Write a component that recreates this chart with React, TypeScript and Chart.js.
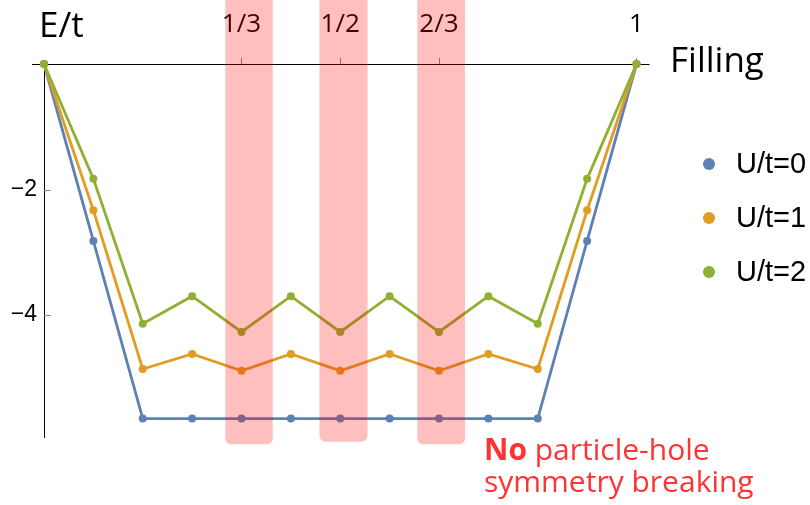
import React, { useEffect, useRef } from "react";
import { Chart, registerables } from "chart.js";

Chart.register(...registerables);

// ---- data ----
const filling = [0, 1 / 12, 2 / 12, 3 / 12, 4 / 12, 5 / 12, 6 / 12, 7 / 12, 8 / 12, 9 / 12, 10 / 12, 11 / 12, 1];
const energyU0 = [0, -2.82, -5.65, -5.65, -5.65, -5.65, -5.65, -5.65, -5.65, -5.65, -5.65, -2.82, 0];
const energyU1 = [0, -2.33, -4.86, -4.62, -4.89, -4.62, -4.89, -4.62, -4.89, -4.62, -4.86, -2.33, 0];
const energyU2 = [0, -1.83, -4.14, -3.70, -4.27, -3.70, -4.27, -3.70, -4.27, -3.70, -4.14, -1.83, 0];
const seriesLabels = ["U/t=0", "U/t=1", "U/t=2"];
const seriesColors = ["#5E81B5", "#E19C24", "#8FB032"];
const xTickValues = [1 / 3, 1 / 2, 2 / 3, 1];
const xTickLabels = ["1/3", "1/2", "2/3", "1"];
const yTickValues = [-4, -2];
const bandLeft = [0.306, 0.465, 0.63];
const bandRight = [0.386, 0.546, 0.7105];
const bandBottom = [-6.06, -6.02, -6.06];

const SEGOE = '"Open Sans", "Noto Sans", sans-serif';
const ARIAL = '"Liberation Sans", Arial, sans-serif';

const axisPlugin = {
  id: "axisLines",
  beforeDatasetsDraw(chart: any) {
    const { ctx, scales, chartArea } = chart;
    const x = scales.x;
    const y = scales.y;
    const py = Math.round(y.getPixelForValue(0)) + 0.5;
    ctx.save();
    ctx.strokeStyle = "#000";
    ctx.lineWidth = 1;
    ctx.beginPath();
    ctx.moveTo(x.getPixelForValue(-0.02), py);
    ctx.lineTo(x.getPixelForValue(1.022), py);
    ctx.stroke();
    ctx.strokeStyle = "#8a8a8a";
    y.ticks.forEach((t: any) => {
      const p = Math.round(y.getPixelForValue(t.value)) + 0.5;
      ctx.beginPath();
      ctx.moveTo(chartArea.left, p);
      ctx.lineTo(chartArea.left + 7, p);
      ctx.stroke();
    });
    ctx.restore();
  },
};

const textPlugin = {
  id: "texts",
  afterDraw(chart: any) {
    const { ctx } = chart;
    ctx.save();
    ctx.fillStyle = "#000";
    ctx.textBaseline = "alphabetic";
    ctx.textAlign = "left";
    ctx.font = `35px ${SEGOE}`;
    ctx.fillText("E/t", 39, 37);
    ctx.fillText("Filling", 670, 72);

    // legend
    const rows = [164, 218, 272];
    chart.data.datasets.forEach((ds: any, i: number) => {
      ctx.fillStyle = ds.borderColor;
      ctx.beginPath();
      ctx.arc(709, rows[i], 6, 0, Math.PI * 2);
      ctx.fill();
      ctx.fillStyle = "#000";
      ctx.font = `29px ${ARIAL}`;
      ctx.textBaseline = "middle";
      ctx.fillText(ds.label, 736, rows[i] + 1);
    });

    // annotation
    ctx.textBaseline = "alphabetic";
    ctx.fillStyle = "#FF3333";
    ctx.font = `bold 30px ${SEGOE}`;
    ctx.fillText("No", 484, 460);
    const w = ctx.measureText("No ").width;
    ctx.font = `30px ${SEGOE}`;
    ctx.fillText("particle-hole", 484 + w, 460);
    ctx.fillText("symmetry breaking", 484, 492);
    ctx.restore();
  },
};

const bandPlugin = {
  id: "bands",
  afterDraw(chart: any) {
    const { ctx, scales } = chart;
    const x = scales.x;
    const y = scales.y;
    ctx.save();
    ctx.fillStyle = "rgba(255,0,0,0.25)";
    bandLeft.forEach((l, i) => {
      const x0 = x.getPixelForValue(l);
      const x1 = x.getPixelForValue(bandRight[i]);
      const yb = y.getPixelForValue(bandBottom[i]);
      ctx.beginPath();
      (ctx as any).roundRect(x0, 0, x1 - x0, yb, [0, 0, 6, 6]);
      ctx.fill();
    });
    ctx.restore();
  },
};

export default function App() {
  const ref = useRef<HTMLCanvasElement | null>(null);

  useEffect(() => {
    let chart: Chart | null = null;
    let cancelled = false;
    const make = () => {
      if (cancelled || !ref.current) return;
      const series = [energyU0, energyU1, energyU2];
      chart = new Chart(ref.current, {
        type: "line",
        data: {
          datasets: series.map((vals, i) => ({
            label: seriesLabels[i],
            data: filling.map((f, k) => ({ x: f, y: vals[k] })),
            borderColor: seriesColors[i],
            backgroundColor: seriesColors[i],
            pointBackgroundColor: seriesColors[i],
            pointBorderWidth: 0,
            pointRadius: 4,
            borderWidth: 2.8,
            tension: 0,
            clip: false as any,
            order: 2 - i,
          })),
        },
        options: {
          responsive: false,
          animation: false,
          layout: { padding: { left: 0, top: 0, right: 173.5, bottom: 67.3 } },
          plugins: {
            legend: { display: false },
            tooltip: { enabled: false },
          },
          scales: {
            x: {
              type: "linear",
              position: "top",
              min: 0,
              max: 1,
              afterFit: (s: any) => {
                s.height = 64;
              },
              afterBuildTicks: (s: any) => {
                s.ticks = xTickValues.map((v) => ({ value: v }));
              },
              ticks: {
                callback: (_v: any, i: number) => xTickLabels[i],
                font: { family: SEGOE, size: 26 },
                color: "#000",
                padding: 18,
                maxRotation: 0,
                autoSkip: false,
              },
              grid: {
                display: true,
                drawOnChartArea: false,
                drawTicks: true,
                tickLength: 6,
                color: "#8a8a8a",
                lineWidth: 1,
              },
              border: { display: false },
            },
            y: {
              type: "linear",
              position: "left",
              min: -5.955,
              max: 0,
              afterFit: (s: any) => {
                s.width = 44;
              },
              afterBuildTicks: (s: any) => {
                s.ticks = yTickValues.map((v) => ({ value: v }));
              },
              ticks: {
                callback: (v: any) => (v < 0 ? "\u2212" + Math.abs(v) : String(v)),
                font: { family: ARIAL, size: 23 },
                color: "#000",
                padding: 7,
              },
              grid: { display: false, drawTicks: false },
              border: { display: true, color: "#000", width: 1 },
            },
          },
        },
        plugins: [axisPlugin, textPlugin, bandPlugin],
      });
    };
    const fonts = (document as any).fonts;
    if (fonts && fonts.load) {
      Promise.all([
        fonts.load(`35px "Open Sans"`),
        fonts.load(`bold 30px "Open Sans"`),
        fonts.load(`29px "Liberation Sans"`),
      ])
        .catch(() => {})
        .then(make);
    } else {
      make();
    }
    return () => {
      cancelled = true;
      if (chart) chart.destroy();
    };
  }, []);

  return (
    <div style={{ position: "absolute", left: 0, top: 0, width: 810, height: 505, background: "#fff" }}>
      <canvas ref={ref} width={810} height={505} style={{ display: "block" }} />
    </div>
  );
}
